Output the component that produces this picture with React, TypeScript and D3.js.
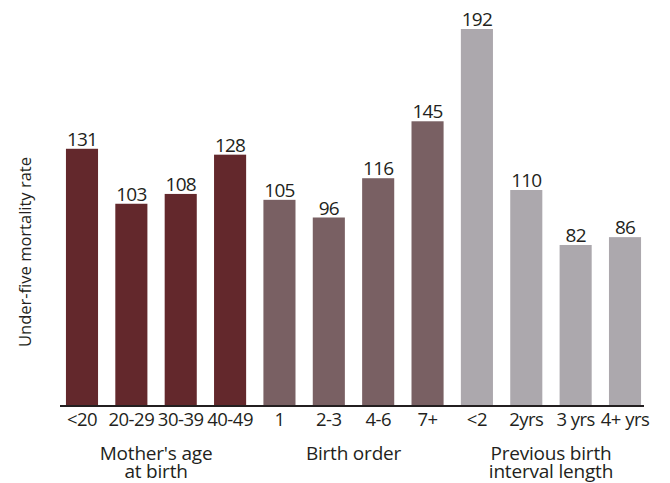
import React from "react";
import * as d3 from "d3";

const categories = ["<20", "20-29", "30-39", "40-49", "1", "2-3", "4-6", "7+", "<2", "2yrs", "3 yrs", "4+ yrs"];
const values = [131, 103, 108, 128, 105, 96, 116, 145, 192, 110, 82, 86];
const groupOf = [0, 0, 0, 0, 1, 1, 1, 1, 2, 2, 2, 2];
const groupLabels = [["Mother's age", "at birth"], ["Birth order"], ["Previous birth", "interval length"]];
const groupColors = ["#63282c", "#796063", "#aca8ad"];
const yLabel = "Under-five mortality rate";

const W = 670;
const H = 483;
const FONT = "'Open Sans', Lato, sans-serif";
const TEXT = "#231f20";

export default function App() {
  const x = d3.scaleBand<string>().domain(categories).range([62, 645]).paddingInner(0.35).paddingOuter(0.08);
  const baseline = 406;
  const y = d3.scaleLinear().domain([0, 192]).range([baseline, 29]);
  const groups = d3.range(groupLabels.length).map((g) => {
    const cats = categories.filter((_, i) => groupOf[i] === g);
    const first = x(cats[0])!;
    const last = x(cats[cats.length - 1])! + x.bandwidth();
    return { g, cx: (first + last) / 2 };
  });
  return (
    <svg width={W} height={H} style={{ position: "absolute", left: 0, top: 0, background: "#fff" }} fontFamily={FONT}>
      {categories.map((c, i) => (
        <g key={c}>
          <rect x={x(c)} y={y(values[i])} width={x.bandwidth()} height={baseline - y(values[i])} fill={groupColors[groupOf[i]]} />
          <text x={x(c)! + x.bandwidth() / 2} y={y(values[i]) - 3} textAnchor="middle" fontSize={19} fill={TEXT} letterSpacing={-0.8}>
            {values[i]}
          </text>
          <text x={x(c)! + x.bandwidth() / 2} y={426} textAnchor="middle" fontSize={18.5} fill={TEXT} letterSpacing={-0.5}>
            {c}
          </text>
        </g>
      ))}
      <line x1={60} x2={644} y1={baseline} y2={baseline} stroke={TEXT} strokeWidth={2} />
      {groups.map(({ g, cx }) =>
        groupLabels[g].map((line, k) => (
          <text key={`${g}-${k}`} x={cx} y={460 + k * 18} textAnchor="middle" fontSize={19} fill={TEXT} letterSpacing={-0.2}>
            {line}
          </text>
        ))
      )}
      <text transform={`translate(31,252) rotate(-90)`} textAnchor="middle" fontSize={16.5} fill={TEXT}>
        {yLabel}
      </text>
    </svg>
  );
}
